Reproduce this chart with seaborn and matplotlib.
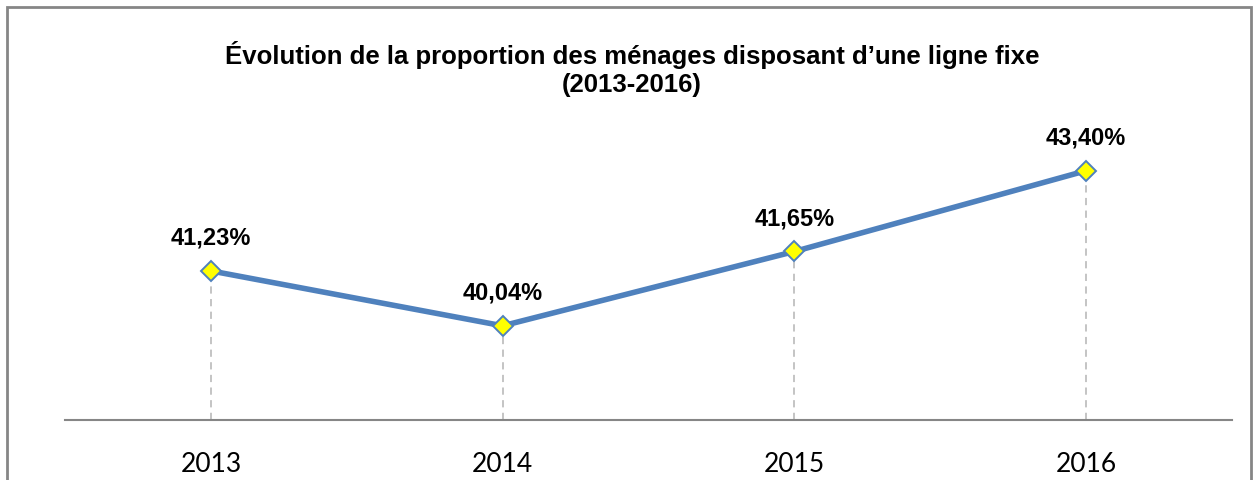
import matplotlib
matplotlib.use("Agg")
import matplotlib.pyplot as plt
from matplotlib.patches import Rectangle
import seaborn as sns
import pandas as pd

years = ["2013", "2014", "2015", "2016"]
values = [41.23, 40.04, 41.65, 43.40]
labels = ["41,23%", "40,04%", "41,65%", "43,40%"]
title = "Évolution de la proportion des ménages disposant d\u2019une ligne fixe\n(2013-2016)"

sns.set_theme(style="white")
plt.rcParams['font.family'] = ['Liberation Sans', 'DejaVu Sans']

df = pd.DataFrame({"year": years, "value": values})

fig = plt.figure(figsize=(12.55, 4.81), dpi=100)
ax = fig.add_axes([65/1255, 1-421/481, (1232-65)/1255, (421-144)/481])

xs = list(range(len(years)))
ax.vlines(xs, 38, values, colors="#BFBFBF", linestyles=(0, (4, 3)), linewidth=1.3, zorder=1)
sns.lineplot(data=df, x="year", y="value", ax=ax, color="#4F81BD", linewidth=4,
             marker="D", markersize=10, markerfacecolor="#FFFF00",
             markeredgecolor="#4F81BD", markeredgewidth=1.4, zorder=3)

for i, (v, lab) in enumerate(zip(values, labels)):
    ax.annotate(lab, (i, v), xytext=(0, 16), textcoords="offset points",
                ha="center", va="bottom", fontsize=17, fontweight="bold", color="black")

ax.set_xlim(-0.5, 3.5)
ax.set_ylim(38, 44)
ax.set_yticks([])
ax.set_xlabel("")
ax.set_ylabel("")
for s in ["top", "right", "left"]:
    ax.spines[s].set_visible(False)
ax.spines["bottom"].set_color("#868686")
ax.spines["bottom"].set_linewidth(1.5)
ax.tick_params(axis="x", length=0, pad=22)
for t in ax.get_xticklabels():
    t.set_fontfamily(["Lato", "DejaVu Sans"])
    t.set_fontsize(19)
    t.set_color("black")

fig.text(632/1255, 1-69/481, title, ha="center", va="center", fontsize=18.5,
         fontweight="bold", linespacing=1.25, color="black")

fig.patches.append(Rectangle((7/1255, -0.1), (1251-7)/1255, 1.1-8/481,
                             transform=fig.transFigure, fill=False,
                             edgecolor="#868686", linewidth=2))

fig.savefig("out.png", dpi=100)
